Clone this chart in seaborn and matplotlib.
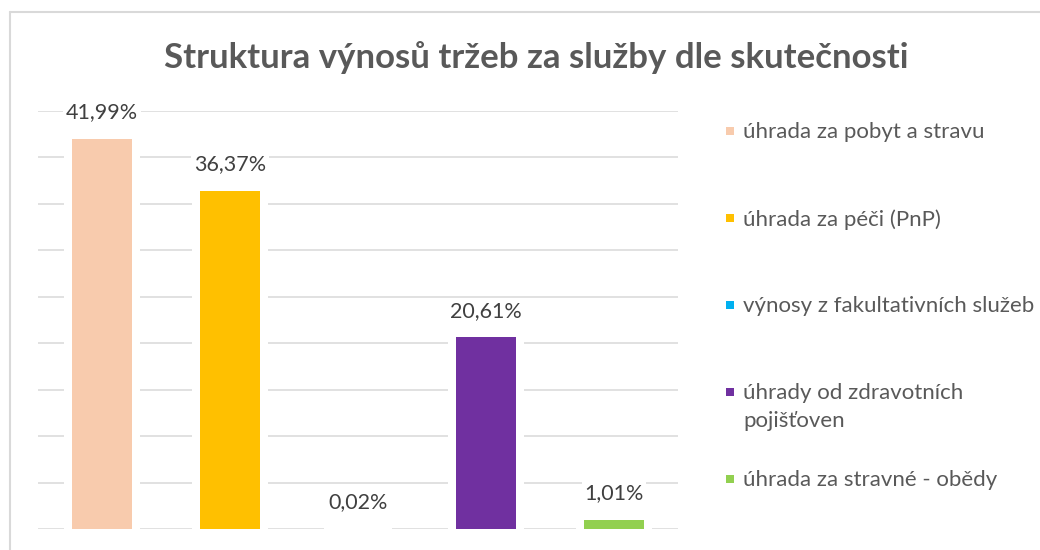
import numpy as np
import pandas as pd
import seaborn as sns
import matplotlib.pyplot as plt
from matplotlib.patches import Rectangle
from matplotlib.lines import Line2D

# data
categories = ['úhrada za pobyt a stravu', 'úhrada za péči (PnP)',
              'výnosy z fakultativních služeb',
              'úhrady od zdravotních\npojišťoven', 'úhrada za stravné - obědy']
shares = [41.99, 36.37, 0.02, 20.61, 1.01]
labels = ['41,99%', '36,37%', '0,02%', '20,61%', '1,01%']
colors = ['#F8CBAD', '#FFC000', '#00B0F0', '#7030A0', '#92D050']
title = 'Struktura výnosů tržeb za služby dle skutečnosti'

sns.set_style('white')
plt.rcParams['font.family'] = ['Lato', 'DejaVu Sans']

df = pd.DataFrame({'cat': categories, 'share': shares})
pal = dict(zip(categories, colors))

fig = plt.figure(figsize=(10.4, 5.5), dpi=100)
ax = fig.add_axes([38 / 1040, 1 - 529 / 550, 640 / 1040, (529 - 110.7) / 550])

# white halo under the bars so the gridlines stop short of them
sns.barplot(data=df, x='cat', y='share', color='white', width=0.53,
            edgecolor='white', linewidth=5.8, saturation=1, ax=ax, zorder=2)
sns.barplot(data=df, x='cat', y='share', hue='cat', palette=pal, width=0.47,
            saturation=1, legend=False, ax=ax, zorder=3, linewidth=0)

ax.set_ylim(0, 45)
ax.set_xlim(-0.5, 4.5)
ax.set_yticks(np.arange(0, 46, 5))
ax.yaxis.grid(True, color='#d9d9d9', linewidth=1.1, zorder=0)
ax.set_axisbelow(True)
ax.tick_params(left=False, bottom=False, labelleft=False, labelbottom=False)
ax.set_xlabel('')
ax.set_ylabel('')
sns.despine(ax=ax, left=True, bottom=True)

for i, (v, lab) in enumerate(zip(shares, labels)):
    ax.annotate(lab, (i, v), xytext=(0, 19), textcoords='offset points',
                ha='center', va='center', fontsize=15.5, color='#404040',
                bbox=dict(facecolor='white', edgecolor='none', pad=2), zorder=4)

fig.text(536 / 1040, 1 - 58 / 550, title, ha='center', va='center',
         fontsize=25, fontweight='bold', color='#595959')

# legend, spaced like the original
for k, (cat, col) in enumerate(zip(categories, colors)):
    yc = 1 - (131 + 87 * k) / 550
    fig.add_artist(Rectangle((726 / 1040, yc - 4 / 550), 8 / 1040, 8 / 550,
                             transform=fig.transFigure, facecolor=col,
                             edgecolor='none'))
    fig.text(743 / 1040, yc + 9 / 550, cat, ha='left', va='top', fontsize=16,
             color='#595959', linespacing=1.5)

# chart frame
fig.add_artist(Line2D([10 / 1040, 10 / 1040], [0, 1 - 12 / 550],
                      color='#d9d9d9', linewidth=1.5))
fig.add_artist(Line2D([10 / 1040, 1], [1 - 12 / 550, 1 - 12 / 550],
                      color='#d9d9d9', linewidth=1.5))

fig.savefig('out.png', dpi=100)
